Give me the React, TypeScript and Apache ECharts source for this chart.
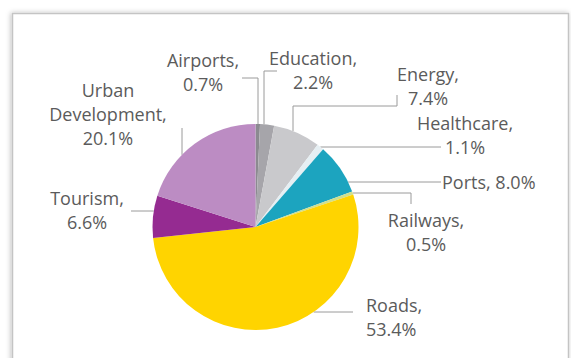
import React, { useEffect, useRef } from 'react';
import * as echarts from 'echarts';

const categories = ['Airports', 'Education', 'Energy', 'Healthcare', 'Ports', 'Railways', 'Roads', 'Tourism', 'Urban Development'];
const shares = [0.7, 2.2, 7.4, 1.1, 8.0, 0.5, 53.4, 6.6, 20.1];
const colors = ['#8b8a90', '#a6a5aa', '#c9c9cc', '#e6eff3', '#1ca4bf', '#cfdf8e', '#ffd400', '#952b91', '#bc8cc3'];

const CX = 255.5;
const CY = 227;
const R = 103;

type Pt = number[];
const topAt = (x: number): Pt => [x, CY - Math.sqrt(R * R - (x - CX) * (x - CX))];
const rightAt = (y: number): Pt => [CX + Math.sqrt(R * R - (y - CY) * (y - CY)), y];
const leftAt = (y: number): Pt => [CX - Math.sqrt(R * R - (y - CY) * (y - CY)), y];

const labelPlacement: { x: number; y: number; align: string; line: () => Pt[] }[] = [
  { x: 203, y: 72, align: 'center', line: () => [[242, 78], [258, 78], topAt(258)] },
  { x: 313, y: 70, align: 'center', line: () => [[277, 71], [264, 71], topAt(264)] },
  { x: 428, y: 85.5, align: 'center', line: () => [[397, 95], [397, 106], [293, 106], topAt(293)] },
  { x: 465, y: 135, align: 'center', line: () => [[441, 147], rightAt(147)] },
  { x: 442, y: 182, align: 'left', line: () => [[441, 182], rightAt(182)] },
  { x: 426, y: 231.5, align: 'center', line: () => [[411, 204], [411, 193], rightAt(193)] },
  { x: 366, y: 316.5, align: 'left', line: () => [[353, 312], rightAt(312)] },
  { x: 87, y: 210, align: 'center', line: () => [[131, 211], leftAt(211)] },
  { x: 108, y: 114, align: 'center', line: () => [[182, 128], topAt(182)] },
];

export default function App() {
  const ref = useRef<HTMLDivElement>(null);
  useEffect(() => {
    if (!ref.current) return;
    const chart = echarts.init(ref.current, undefined, { renderer: 'svg' });
    chart.setOption({
      animation: false,
      backgroundColor: '#ffffff',
      graphic: [
        {
          type: 'rect',
          z: -10,
          shape: { x: 12.5, y: 13.5, width: 556, height: 380 },
          style: {
            fill: '#ffffff',
            stroke: '#c4c4c4',
            lineWidth: 1.5,
            shadowBlur: 5,
            shadowColor: 'rgba(0,0,0,0.25)',
            shadowOffsetX: -1,
            shadowOffsetY: 0,
          },
        },
      ],
      series: [
        {
          type: 'pie',
          center: [CX, CY],
          radius: R,
          startAngle: 90,
          clockwise: true,
          avoidLabelOverlap: false,
          itemStyle: { borderWidth: 0 },
          label: {
            show: true,
            position: 'outside',
            fontFamily: 'Open Sans',
            fontSize: 18,
            lineHeight: 24,
            color: '#5b5b5b',
            formatter: (p: any) => {
              const name = p.dataIndex === 8 ? 'Urban\nDevelopment' : p.name;
              const sep = p.dataIndex === 4 ? ' ' : '\n';
              return `${name},${sep}${Number(p.value).toFixed(1)}%`;
            },
          },
          labelLine: {
            show: true,
            length: 10,
            length2: 10,
            lineStyle: { color: '#9a9a9a', width: 1 },
          },
          labelLayout: (params: any) => {
            const pl = labelPlacement[params.dataIndex];
            return {
              x: pl.x,
              y: pl.y,
              align: pl.align,
              verticalAlign: 'middle',
              labelLinePoints: pl.line(),
            };
          },
          emphasis: { disabled: true },
          data: categories.map((c, i) => ({ name: c, value: shares[i], itemStyle: { color: colors[i] } })),
        },
      ],
    });
    return () => chart.dispose();
  }, []);
  return <div ref={ref} style={{ position: 'fixed', left: 0, top: 0, width: 571, height: 358 }} />;
}
